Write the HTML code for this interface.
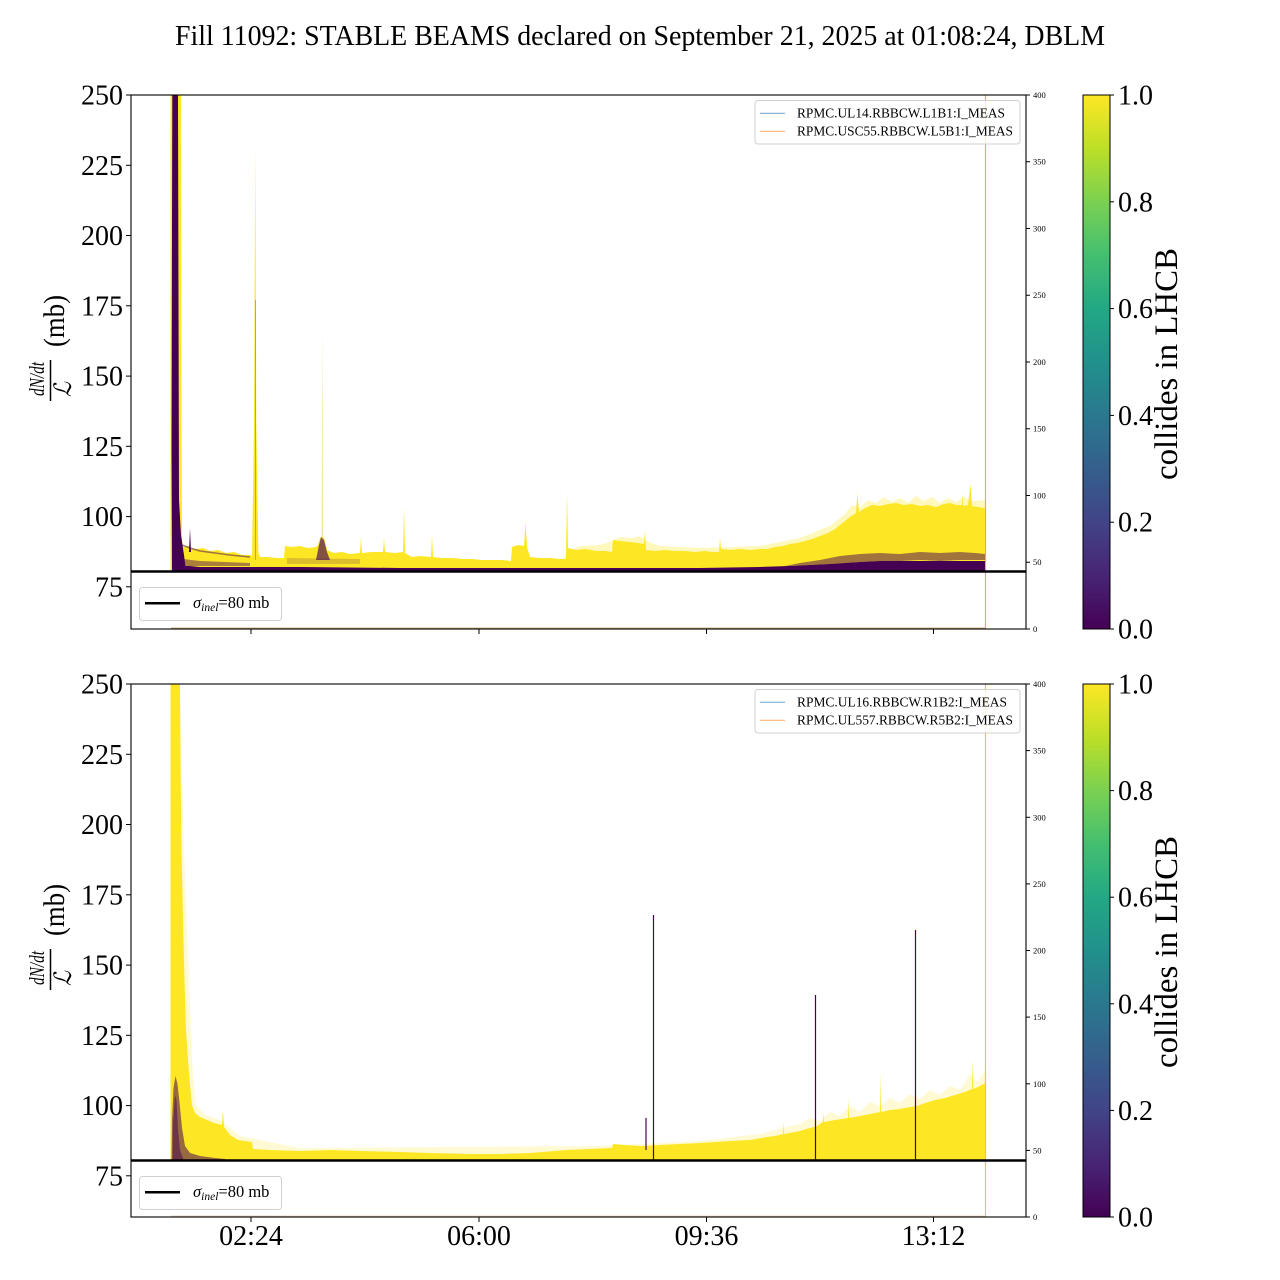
<!DOCTYPE html>
<html><head><meta charset="utf-8"><style>
html,body{margin:0;padding:0;background:#fff;}
svg{display:block;}
text{font-family:"Liberation Serif","DejaVu Serif",serif;fill:#000;}
</style></head><body>
<svg width="1280" height="1280" viewBox="0 0 1280 1280" xmlns="http://www.w3.org/2000/svg">
<defs>
<linearGradient id="vir" x1="0" y1="1" x2="0" y2="0">
<stop offset="0" stop-color="#440154"/><stop offset="0.1" stop-color="#482475"/><stop offset="0.2" stop-color="#414487"/><stop offset="0.3" stop-color="#355f8d"/><stop offset="0.4" stop-color="#2a788e"/><stop offset="0.5" stop-color="#21918c"/><stop offset="0.6" stop-color="#22a884"/><stop offset="0.7" stop-color="#44bf70"/><stop offset="0.8" stop-color="#7ad151"/><stop offset="0.9" stop-color="#bddf26"/><stop offset="1" stop-color="#fde725"/>
</linearGradient>
</defs>
<rect width="1280" height="1280" fill="#fff"/>

<text x="640" y="45" font-size="28" text-anchor="middle" textLength="930" lengthAdjust="spacingAndGlyphs">Fill 11092: STABLE BEAMS declared on September 21, 2025 at 01:08:24, DBLM</text>

<!-- ================= TOP PLOT ================= -->
<g>
<line x1="171" y1="628.3" x2="985" y2="628.3" stroke="#c9a070" stroke-width="1.3"/>
<line x1="985.5" y1="95" x2="985.5" y2="629" stroke="#d8b552" stroke-width="1.2"/>
<polygon fill="#fde725" opacity="0.3" points="560,571 566,552 580,546 600,545 612,541 620,537 632,538 640,536 646,541 660,546 700,548 760,546 800,538 830,526 845,514 852,505 860,508 868,500 876,503 884,497 892,502 900,498 908,503 916,496 924,501 932,497 940,503 948,498 956,502 964,497 972,501 985,500 985,571"/>
<polygon fill="#fde725" points="178,571 178,540 181,533 183,547 188,546 190,548 196,549 203,548 210,551 218,550 226,553 234,552 242,555 250,555 252,556 253,552 258,552 260,557 268,557 276,558 284,558 285,546 292,547 300,546 308,548 316,547 318,545 320,538 324,537 327,550 334,553 342,552 350,554 360,553 361,537 362,553 372,552 383,552 384,538 385,552 395,553 403,552 404,508 405,553 412,557 420,556 431,557 432,535 433,557 442,558 452,558 462,559 472,559 482,560 492,560 502,560 511,561 512,547 518,545 524,546 525.5,522 527,547 530,557 540,558 550,558 560,559 566,559 567,492 568,548 576,550 586,549 596,551 606,551 612,552 613,540 620,541 630,542 638,543 644,544 645,530 646,550 655,551 665,550 675,551 685,551 695,552 705,551 712,552 719,552 720,538 721,549 730,550 740,549 750,550 760,549 767,549 775,547 783,546 790,544 797,543 805,541 812,539 820,536 828,533 835,529 840,525 845,521 850,517 856,513 857.5,493 859,512 865,508 872,505 880,506 888,504 896,503 904,505 912,504 920,506 928,505 936,507 944,504 950,503 956,505 962,505 962.5,493 963,506 968,505 970.5,484 972,506 978,507 985,508 985,571"/>
<!-- spikes -->
<polygon fill="#fde725" points="252,560 254,423 255.3,148 256.3,423 258.5,560"/>
<line x1="255.6" y1="560" x2="255.6" y2="300" stroke="#440154" stroke-width="0.8" opacity="0.35"/>
<polygon fill="#e8d860" opacity="0.6" points="321.5,545 322.3,326 323.2,545"/>
<polygon fill="#440154" points="189,552 190,528 191,552"/>
<!-- mottled bands -->
<polygon fill="#440154" opacity="0.45" points="183,559 200,561 250,563 250,566 183,566"/>
<polygon fill="#440154" opacity="0.18" points="287,558 360,559 360,564 287,564"/>
<polygon fill="#440154" opacity="0.65" points="316,560 319,545 321,537 324,540 327,552 330,560"/>
<polyline fill="none" stroke="#440154" stroke-width="1.5" opacity="0.5" points="182,545 190,548 200,551 215,553 230,555 250,557"/>
<polygon fill="#440154" opacity="0.5" points="780,567 800,563 820,560 840,556 860,554 880,553 900,554 920,552 940,553 960,552 975,553 985,554 985,560 960,560 940,561 920,560 900,561 880,561 860,562 845,563 830,564 810,565 790,566"/>
<polygon fill="#440154" points="179,571 179,566 190,566 200,567 300,567 400,568 500,568 600,568 700,568 760,567 790,566 810,565 830,564 845,563 860,562 880,561 900,561 920,561 940,561 960,561 985,561 985,571"/>
<!-- initial spike -->
<polygon fill="#fde725" points="170.5,571 170.5,95 181,95 181.5,400 182,560 181,571"/>
<polygon fill="#440154" points="172,571 171.5,450 172.3,95 178,95 178.5,300 179,500 181,535 184,555 186,571"/>
<!-- 80 mb line -->
<line x1="131" y1="571.5" x2="1026" y2="571.5" stroke="#000" stroke-width="2.6"/>
<!-- frame -->
<rect x="131" y="95" width="895" height="534" fill="none" stroke="#000" stroke-width="1.1"/>
<!-- left ticks -->
<g stroke="#000" stroke-width="1">
<line x1="126" y1="95" x2="131" y2="95"/><line x1="126" y1="165.3" x2="131" y2="165.3"/><line x1="126" y1="235.5" x2="131" y2="235.5"/><line x1="126" y1="305.8" x2="131" y2="305.8"/><line x1="126" y1="376.1" x2="131" y2="376.1"/><line x1="126" y1="446.3" x2="131" y2="446.3"/><line x1="126" y1="516.6" x2="131" y2="516.6"/><line x1="126" y1="586.8" x2="131" y2="586.8"/>
<line x1="251" y1="629" x2="251" y2="634"/><line x1="479" y1="629" x2="479" y2="634"/><line x1="706.5" y1="629" x2="706.5" y2="634"/><line x1="933.5" y1="629" x2="933.5" y2="634"/>
<line x1="1026" y1="95" x2="1030" y2="95"/><line x1="1026" y1="161.75" x2="1030" y2="161.75"/><line x1="1026" y1="228.5" x2="1030" y2="228.5"/><line x1="1026" y1="295.25" x2="1030" y2="295.25"/><line x1="1026" y1="362" x2="1030" y2="362"/><line x1="1026" y1="428.75" x2="1030" y2="428.75"/><line x1="1026" y1="495.5" x2="1030" y2="495.5"/><line x1="1026" y1="562.25" x2="1030" y2="562.25"/><line x1="1026" y1="629" x2="1030" y2="629"/>
</g>
<g font-size="28" text-anchor="end">
<text x="123" y="104.5">250</text><text x="123" y="174.8">225</text><text x="123" y="245">200</text><text x="123" y="315.3">175</text><text x="123" y="385.6">150</text><text x="123" y="455.8">125</text><text x="123" y="526.1">100</text><text x="123" y="596.3">75</text>
</g>
<g font-size="8.5">
<text x="1033" y="98">400</text><text x="1033" y="164.7">350</text><text x="1033" y="231.5">300</text><text x="1033" y="298.2">250</text><text x="1033" y="365">200</text><text x="1033" y="431.7">150</text><text x="1033" y="498.5">100</text><text x="1033" y="565.2">50</text><text x="1033" y="632">0</text>
</g>
<!-- ylabel -->
<text transform="translate(64,347) rotate(-90)" font-size="30" textLength="52" lengthAdjust="spacingAndGlyphs">(mb)</text>
<text transform="translate(44,396) rotate(-90)" font-size="21" font-style="italic" textLength="34" lengthAdjust="spacingAndGlyphs">dN/dt</text>
<line x1="50.5" y1="360" x2="50.5" y2="401" stroke="#000" stroke-width="1.5"/>
<text transform="translate(71,397) rotate(-90)" font-size="24" font-style="italic" textLength="15" lengthAdjust="spacingAndGlyphs">ℒ</text>
<!-- legends -->
<rect x="755" y="100.5" width="265" height="43.5" rx="3" fill="#fff" fill-opacity="0.8" stroke="#d0d0d0" stroke-width="1"/>
<line x1="760" y1="113.3" x2="785" y2="113.3" stroke="#7fb0d5" stroke-width="1.2"/>
<line x1="760" y1="131.3" x2="785" y2="131.3" stroke="#ffb570" stroke-width="1.2"/>
<text x="797" y="117.5" font-size="13.3" textLength="208" lengthAdjust="spacingAndGlyphs">RPMC.UL14.RBBCW.L1B1:I_MEAS</text>
<text x="797" y="135.5" font-size="13.3" textLength="216" lengthAdjust="spacingAndGlyphs">RPMC.USC55.RBBCW.L5B1:I_MEAS</text>
<rect x="139.5" y="587.5" width="142" height="33" rx="3" fill="#fff" fill-opacity="0.8" stroke="#d0d0d0" stroke-width="1"/>
<line x1="145" y1="603.3" x2="180" y2="603.3" stroke="#000" stroke-width="2.5"/>
<text x="193" y="608" font-size="16.5"><tspan font-style="italic">σ</tspan><tspan font-style="italic" font-size="11.5" dy="3">inel</tspan><tspan dy="-3">=80 mb</tspan></text>
<!-- colorbar -->
<rect x="1083" y="95" width="27" height="534" fill="url(#vir)" stroke="#000" stroke-width="1"/>
<g stroke="#000" stroke-width="1">
<line x1="1110" y1="95" x2="1114" y2="95"/><line x1="1110" y1="201.8" x2="1114" y2="201.8"/><line x1="1110" y1="308.6" x2="1114" y2="308.6"/><line x1="1110" y1="415.4" x2="1114" y2="415.4"/><line x1="1110" y1="522.2" x2="1114" y2="522.2"/><line x1="1110" y1="629" x2="1114" y2="629"/>
</g>
<g font-size="28">
<text x="1118" y="104.5">1.0</text><text x="1118" y="211.3">0.8</text><text x="1118" y="318.1">0.6</text><text x="1118" y="424.9">0.4</text><text x="1118" y="531.7">0.2</text><text x="1118" y="638.5">0.0</text>
</g>
<text transform="translate(1177,364) rotate(-90)" font-size="33" text-anchor="middle" textLength="232" lengthAdjust="spacingAndGlyphs">collides in LHCB</text>
</g>

<!-- ================= BOTTOM PLOT ================= -->
<g>
<line x1="171" y1="1216.3" x2="985" y2="1216.3" stroke="#e2ccb4" stroke-width="1.3"/>
<line x1="985.5" y1="684" x2="985.5" y2="1217" stroke="#e6c84a" stroke-width="1.2"/>
<polygon fill="#fde725" opacity="0.2" points="180,700 183,820 186,900 189,980 192,1060 196,1105 205,1115 220,1120 240,1136 300,1148 600,1146 700,1141 760,1134 790,1126 800,1124 810,1118 820,1121 830,1112 840,1116 850,1106 860,1112 870,1102 880,1106 890,1098 900,1103 910,1094 920,1099 930,1090 940,1095 950,1086 960,1090 970,1074 978,1082 985,1070 985,1161 180,1161"/>
<polygon fill="#fde725" points="170.5,1161 170.5,684 180,684 180.5,760 181.5,850 183,920 184.5,980 186,1030 188,1060 190,1085 192,1105 195,1113 200,1117 207,1120 214,1123 222,1125 223,1110 224,1127 230,1135 238,1140 245,1141 252,1142 253,1149 270,1150 300,1151 330,1150 360,1151 400,1152 430,1153 470,1154 500,1154 530,1153 567,1150 590,1149 612,1148 613,1144 625,1145 640,1146 646,1146 660,1145 680,1144 700,1143 715,1142 730,1141 750,1140 767,1137 775,1136 783,1134 783.5,1122 784,1134 800,1131 810,1128 817,1126 823,1122 823.5,1113 824,1122 835,1120 848,1118 848.5,1098 849,1118 860,1116 870,1114 880,1112 880.5,1072 881,1112 890,1110 900,1109 910,1107 917,1106 925,1103 935,1100 945,1098 955,1095 965,1092 972,1089 972.5,1057 973,1089 980,1086 985,1083 985,1161"/>
<polygon fill="#440154" opacity="0.55" points="171.5,1161 172,1120 173.5,1088 175.5,1076 177.5,1084 179.5,1102 182,1128 185,1146 190,1153 200,1156 215,1158 225,1159 226,1161"/>
<polygon fill="#440154" opacity="0.5" points="172.5,1161 173,1125 175,1095 176.5,1100 178,1130 180,1150 184,1161"/>
<g stroke="#440154" stroke-width="1.2">
<line x1="653.5" y1="915" x2="653.5" y2="1161"/>
<line x1="646" y1="1118" x2="646" y2="1150"/>
<line x1="815.5" y1="995" x2="815.5" y2="1161"/>
<line x1="915.5" y1="930" x2="915.5" y2="1161"/>
</g>
<line x1="131" y1="1160.5" x2="1026" y2="1160.5" stroke="#000" stroke-width="2.6"/>
<rect x="131" y="684" width="895" height="533" fill="none" stroke="#000" stroke-width="1.1"/>
<g stroke="#000" stroke-width="1">
<line x1="126" y1="684" x2="131" y2="684"/><line x1="126" y1="754.3" x2="131" y2="754.3"/><line x1="126" y1="824.5" x2="131" y2="824.5"/><line x1="126" y1="894.8" x2="131" y2="894.8"/><line x1="126" y1="965.1" x2="131" y2="965.1"/><line x1="126" y1="1035.3" x2="131" y2="1035.3"/><line x1="126" y1="1105.6" x2="131" y2="1105.6"/><line x1="126" y1="1175.8" x2="131" y2="1175.8"/>
<line x1="251" y1="1217" x2="251" y2="1222"/><line x1="479" y1="1217" x2="479" y2="1222"/><line x1="706.5" y1="1217" x2="706.5" y2="1222"/><line x1="933.5" y1="1217" x2="933.5" y2="1222"/>
<line x1="1026" y1="684" x2="1030" y2="684"/><line x1="1026" y1="750.6" x2="1030" y2="750.6"/><line x1="1026" y1="817.3" x2="1030" y2="817.3"/><line x1="1026" y1="883.9" x2="1030" y2="883.9"/><line x1="1026" y1="950.5" x2="1030" y2="950.5"/><line x1="1026" y1="1017.1" x2="1030" y2="1017.1"/><line x1="1026" y1="1083.8" x2="1030" y2="1083.8"/><line x1="1026" y1="1150.4" x2="1030" y2="1150.4"/><line x1="1026" y1="1217" x2="1030" y2="1217"/>
</g>
<g font-size="28" text-anchor="end">
<text x="123" y="693.5">250</text><text x="123" y="763.8">225</text><text x="123" y="834">200</text><text x="123" y="904.3">175</text><text x="123" y="974.6">150</text><text x="123" y="1044.8">125</text><text x="123" y="1115.1">100</text><text x="123" y="1185.3">75</text>
</g>
<g font-size="28" text-anchor="middle">
<text x="251" y="1245">02:24</text><text x="479" y="1245">06:00</text><text x="706.5" y="1245">09:36</text><text x="933.5" y="1245">13:12</text>
</g>
<g font-size="8.5">
<text x="1033" y="687">400</text><text x="1033" y="753.6">350</text><text x="1033" y="820.3">300</text><text x="1033" y="886.9">250</text><text x="1033" y="953.5">200</text><text x="1033" y="1020.1">150</text><text x="1033" y="1086.8">100</text><text x="1033" y="1153.4">50</text><text x="1033" y="1220">0</text>
</g>
<text transform="translate(64,936) rotate(-90)" font-size="30" textLength="52" lengthAdjust="spacingAndGlyphs">(mb)</text>
<text transform="translate(44,985) rotate(-90)" font-size="21" font-style="italic" textLength="34" lengthAdjust="spacingAndGlyphs">dN/dt</text>
<line x1="50.5" y1="949" x2="50.5" y2="990" stroke="#000" stroke-width="1.5"/>
<text transform="translate(71,986) rotate(-90)" font-size="24" font-style="italic" textLength="15" lengthAdjust="spacingAndGlyphs">ℒ</text>
<rect x="755" y="689.5" width="265" height="43.5" rx="3" fill="#fff" fill-opacity="0.8" stroke="#d0d0d0" stroke-width="1"/>
<line x1="760" y1="702.3" x2="785" y2="702.3" stroke="#7fb0d5" stroke-width="1.2"/>
<line x1="760" y1="720.3" x2="785" y2="720.3" stroke="#ffb570" stroke-width="1.2"/>
<text x="797" y="706.5" font-size="13.3" textLength="210" lengthAdjust="spacingAndGlyphs">RPMC.UL16.RBBCW.R1B2:I_MEAS</text>
<text x="797" y="724.5" font-size="13.3" textLength="216" lengthAdjust="spacingAndGlyphs">RPMC.UL557.RBBCW.R5B2:I_MEAS</text>
<rect x="139.5" y="1176.5" width="142" height="33" rx="3" fill="#fff" fill-opacity="0.8" stroke="#d0d0d0" stroke-width="1"/>
<line x1="145" y1="1192.3" x2="180" y2="1192.3" stroke="#000" stroke-width="2.5"/>
<text x="193" y="1197" font-size="16.5"><tspan font-style="italic">σ</tspan><tspan font-style="italic" font-size="11.5" dy="3">inel</tspan><tspan dy="-3">=80 mb</tspan></text>
<rect x="1083" y="684" width="27" height="533" fill="url(#vir)" stroke="#000" stroke-width="1"/>
<g stroke="#000" stroke-width="1">
<line x1="1110" y1="684" x2="1114" y2="684"/><line x1="1110" y1="790.6" x2="1114" y2="790.6"/><line x1="1110" y1="897.2" x2="1114" y2="897.2"/><line x1="1110" y1="1003.8" x2="1114" y2="1003.8"/><line x1="1110" y1="1110.4" x2="1114" y2="1110.4"/><line x1="1110" y1="1217" x2="1114" y2="1217"/>
</g>
<g font-size="28">
<text x="1118" y="693.5">1.0</text><text x="1118" y="800.1">0.8</text><text x="1118" y="906.7">0.6</text><text x="1118" y="1013.3">0.4</text><text x="1118" y="1119.9">0.2</text><text x="1118" y="1226.5">0.0</text>
</g>
<text transform="translate(1177,952) rotate(-90)" font-size="33" text-anchor="middle" textLength="232" lengthAdjust="spacingAndGlyphs">collides in LHCB</text>
</g>
</svg>
</body></html>
